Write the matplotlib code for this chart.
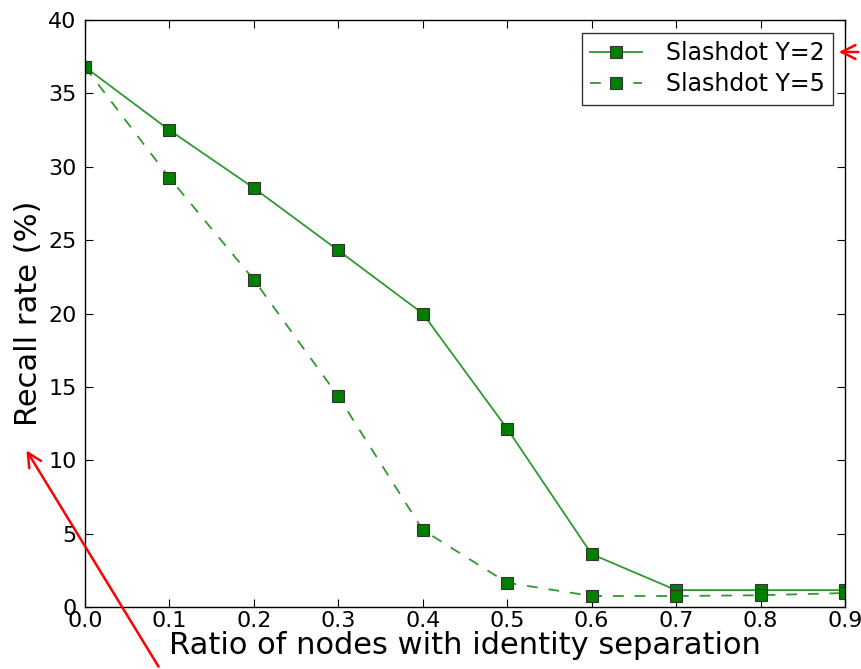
import numpy as np
from matplotlib import pyplot as plt
from matplotlib.patches import FancyArrowPatch

ratio = [0.0, 0.1, 0.2, 0.3, 0.4, 0.5, 0.6, 0.7, 0.8, 0.9]
recall_y2 = [36.8, 32.5, 28.55, 24.3, 20.0, 12.15, 3.6, 1.15, 1.15, 1.15]
recall_y5 = [36.8, 29.25, 22.3, 14.35, 5.25, 1.65, 0.75, 0.75, 0.8, 0.95]

fig = plt.figure(figsize=(8.61, 6.69), dpi=100)
ax = fig.add_axes([0.0987, 0.0927, 0.8827, 0.8773])

line_color = '#2e9a2e'
ax.plot(ratio, recall_y2, color=line_color, linestyle='-', linewidth=1.3,
        marker='s', markersize=8, markerfacecolor='#007f00',
        markeredgecolor='#333333', markeredgewidth=0.8, label='Slashdot Y=2')
ax.plot(ratio, recall_y5, color=line_color, linestyle='--', linewidth=1.3,
        dashes=(6, 6), marker='s', markersize=8, markerfacecolor='#007f00',
        markeredgecolor='#333333', markeredgewidth=0.8, label='Slashdot Y=5')

ax.set_xlim(0, 0.9)
ax.set_ylim(0, 40)
ax.set_xticks(np.arange(0, 0.91, 0.1))
ax.set_xticklabels([f"{v:.1f}" for v in np.arange(0, 0.91, 0.1)])
ax.set_yticks(range(0, 41, 5))
ax.tick_params(direction='in', length=6, labelsize=16, top=True, right=True)
ax.tick_params(axis='x', pad=3)
ax.tick_params(axis='y', pad=6)
for s in ax.spines.values():
    s.set_linewidth(1.0)

ax.set_xlabel('Ratio of nodes with identity separation', fontsize=22, labelpad=0)
ax.set_ylabel('Recall rate (%)', fontsize=22, labelpad=4)

leg = ax.legend(loc='upper right', fontsize=17, fancybox=False, framealpha=1,
                handlelength=2.2, borderpad=0.35, labelspacing=0.3,
                handletextpad=1.0, edgecolor='#333333',
                bbox_to_anchor=(1.0, 0.998))
leg.get_frame().set_linewidth(1.0)

# red annotation arrows
fig.patches.append(FancyArrowPatch(
    (160 / 861, 0.0), (25 / 861, 1 - 448 / 669),
    transform=fig.transFigure, arrowstyle='->', mutation_scale=25,
    color='red', linewidth=1.8))
fig.patches.append(FancyArrowPatch(
    (1.0, 1 - 52 / 669), (836 / 861, 1 - 52 / 669),
    transform=fig.transFigure, arrowstyle='->', mutation_scale=25,
    color='red', linewidth=1.8))

fig.savefig('out.png', dpi=100)
